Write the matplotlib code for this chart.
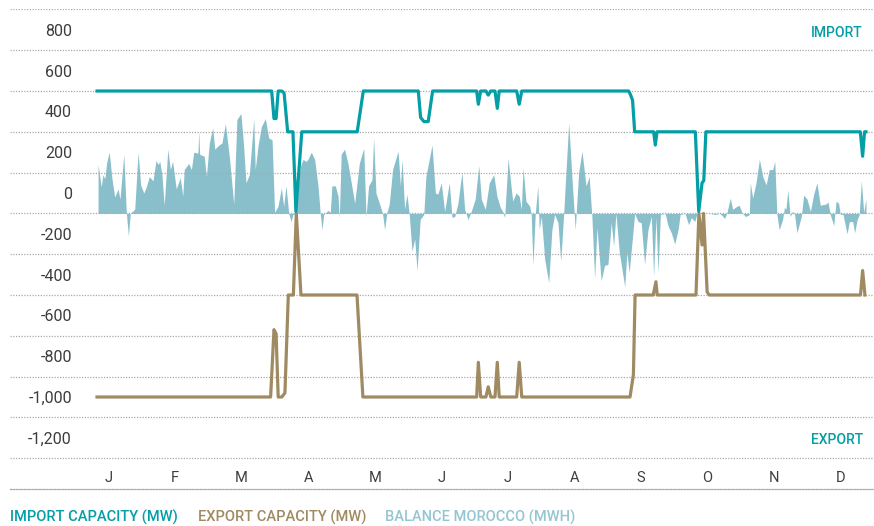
import matplotlib
matplotlib.use("Agg")
import matplotlib.pyplot as plt
from matplotlib import font_manager

# ---------------------------------------------------------------- data
# Interconnector capacities (MW); vertices of the daily series, day of year
import_day = [0, 82.9, 84.0, 85.0, 86.0, 87.7, 88.8, 90.5, 93.0, 94.4, 97.2,
              123.5, 126.4, 152.5, 153.6, 155.2, 157.2, 159.3, 180.2, 181.0,
              182.1, 184.6, 185.7, 186.9, 188.9, 190.0, 190.9, 199.2, 200.4,
              201.6, 252.3, 253.1, 254.2, 255.2, 264.2, 265.0, 265.8, 284.0,
              285.6, 287.2, 288.0, 289.0, 362.3, 363.4, 364.3, 365.0]
import_mw = [500, 500, 365, 365, 500, 500, 490, 300, 300, -90, 300,
             300, 500, 500, 370, 350, 350, 500, 500, 435,
             500, 500, 480, 500, 500, 415, 500, 500, 435,
             500, 500, 485, 455, 300, 300, 235, 300, 300,
             -90, 50, 60, 300, 300, 180, 300, 300]

export_day = [0, 82.4, 84.0, 85.0, 86.0, 87.7, 89.2, 90.8, 93.2, 94.6, 96.8,
              123.4, 126.2, 180.2, 181.0, 182.1, 184.6, 185.7, 186.9, 188.9,
              190.0, 190.9, 199.2, 200.4, 201.6, 253.0, 254.6, 255.4, 264.0,
              265.3, 265.9, 284.3, 285.7, 287.2, 287.9, 289.6, 290.6, 362.4,
              363.4, 364.5]
export_mw = [-1000, -1000, -670, -690, -1000, -1000, -980, -500, -500, -100, -500,
             -500, -1000, -1000, -830, -1000, -1000, -950, -1000, -1000,
             -830, -1000, -1000, -830, -1000, -1000, -890, -500, -500,
             -435, -500, -500, -100, -255, -100, -485, -500, -500,
             -380, -500]

# Daily balance of Morocco (MWh)
balance_day = [0.5, 2.0, 2.8, 3.7, 4.6, 5.8, 7.1, 8.4, 10.0, 10.9, 12.7, 13.9,
               14.9, 15.8, 17.9, 19.5, 20.7, 22.2, 23.4, 24.8, 26.6, 28.0, 29.0,
               29.8, 30.8, 31.9, 33.6, 34.8, 35.9, 37.6, 39.5, 40.7, 41.4, 43.5,
               44.8, 45.9, 47.9, 48.3, 48.7, 50.9, 51.9, 53.3, 54.9, 55.9, 57.8,
               59.3, 60.9, 62.8, 64.9, 66.4, 68.3, 69.6, 70.7, 72.3, 74.4, 75.1,
               76.4, 78.0, 79.9, 81.5, 83.1, 84.3, 85.9, 87.5, 88.6, 89.7, 91.0,
               92.1, 93.0, 94.4, 96.5, 97.8, 99.2, 100.1, 101.7, 103.3, 104.9,
               106.0, 106.8, 107.6, 108.7, 109.6, 110.7, 111.5, 113.1, 114.4,
               115.0, 115.9, 117.5, 119.1, 120.2, 122.3, 124.5, 126.6, 127.7,
               128.9, 130.5, 131.3, 132.4, 134.5, 135.6, 136.5, 137.6, 138.7,
               140.3, 142.9, 144.0, 144.8, 146.0, 147.1, 148.2, 149.5, 150.8,
               151.9, 153.4, 155.1, 156.1, 159.0, 160.6, 161.8, 163.4, 165.0,
               167.2, 168.5, 169.8, 171.3, 173.2, 174.5, 176.1, 177.6, 179.5,
               181.2, 182.4, 184.3, 186.2, 188.3, 189.8, 191.4, 192.5, 193.5,
               195.1, 197.3, 198.9, 200.4, 201.4, 202.2, 203.6, 205.4, 206.1,
               206.9, 208.0, 209.2, 209.9, 210.9, 212.5, 214.4, 215.9, 217.2,
               218.8, 220.1, 221.5, 222.3, 223.9, 225.4, 227.0, 228.6, 230.2,
               232.1, 233.6, 234.9, 236.2, 237.3, 239.3, 240.9, 242.5, 244.1,
               245.2, 246.3, 247.9, 250.5, 251.5, 252.6, 253.9, 255.2, 256.8,
               258.3, 259.9, 261.5, 263.1, 264.2, 265.3, 266.3, 267.4, 269.7,
               271.0, 272.6, 274.2, 275.8, 276.8, 279.1, 280.0, 280.8, 282.1,
               283.7, 284.8, 290.9, 293.3, 295.7, 297.9, 299.0, 300.6, 301.7,
               303.7, 304.8, 306.1, 307.7, 309.0, 309.6, 310.1, 311.2, 312.8,
               314.4, 316.0, 317.6, 319.1, 320.7, 321.7, 322.7, 323.8, 325.4,
               326.3, 327.0, 327.9, 329.0, 330.2, 331.1, 332.2, 334.3, 335.4,
               337.0, 338.6, 340.2, 341.7, 343.3, 345.7, 347.0, 348.0, 349.7,
               350.8, 352.0, 352.8, 354.1, 356.0, 357.1, 358.7, 359.6, 360.8,
               361.8, 362.8, 363.9, 365.0]
balance_mwh = [240, 130, 190, 170, 250, 300, 170, 80, 120, 70, 290, 5,
               -110, 0, 20, 300, 140, 100, 130, 180, 160, 260, 240,
               255, 190, 40, 315, 215, 255, 120, 175, 85, 215, 245,
               215, 300, 295, 405, 290, 280, 180, 345, 420, 315, 335,
               345, 440, 280, 45, 460, 490, 330, 150, 190, 465, 215,
               330, 425, 465, 370, 360, 5, 35, 125, 35, 135, 0,
               -40, -5, 0, 230, 265, 255, 265, 300, 265, 135,
               -5, -80, -5, 5, 15, 5, 135, 135, 85,
               -25, 290, 315, 245, 180, 50, 245, 320, -15,
               135, 165, 370, 100, 35, -5, -80, 5, 45,
               215, 305, 135, 265, 20, 95, -5, -185, -125,
               -280, -30, -5, 180, 335, 100, 95, 150, 10,
               150, -20, -15, 50, 200, 20, -30, 10, 70,
               235, 70, 20, 150, 190, 85, 30, 10, -20,
               270, 60, 100, 85, 20, 225, 60, 35, -5,
               -255, -5, 135, -80, -15, -225, -340, -80, -5,
               -45, -235, -5, 150, 445, 180, -80, 200, 305,
               135, 180, -15, -320, -70, -330, -255, -250, -45,
               -160, 0, -190, -360, -190, -290, -145, 0, -40,
               -45, -250, -80, -15, -305, -20, -290, -5, 0,
               -60, -95, -150, -80, -5, 0, -30, -55, -20,
               -40, 0, 0, -5, 0, -25, 5, 75, 20,
               35, 40, 5, -15, -10, -5, 150, 75, 150,
               265, 180, 140, 215, 215, 255, -5, -80, -30,
               30, 20, 115, -15, 10, -5, -95, -15, 90,
               70, 10, 95, 150, 40, 45, 55, -5, -60,
               60, 50, -5, -5, -100, -40, -40, -95, -30,
               -5, 160, 5, 70]

month_labels = ["J", "F", "M", "A", "M", "J", "J", "A", "S", "O", "N", "D"]
value_ticks = [800, 600, 400, 200, 0, -200, -400, -600, -800, -1000, -1200]
grid_levels = [900, 700, 500, 300, 100, -100, -300, -500, -700, -900, -1100, -1300]

legend_entries = ["IMPORT CAPACITY (MW)", "EXPORT CAPACITY (MW)", "BALANCE MOROCCO (MWH)"]

# ---------------------------------------------------------------- style
installed = {f.name for f in font_manager.fontManager.ttflist}
base_font = next((f for f in ["Roboto", "DejaVu Sans"] if f in installed), "DejaVu Sans")
plt.rcParams["font.family"] = [base_font, "DejaVu Sans"]

TEAL = "#049ea6"
BROWN = "#a08a62"
FILL = "#89bfcb"
FILL_TEXT = "#93c6d1"
GRID = "#a9a9a9"
LABEL = "#3d3d3d"

W, H = 874, 526
fig = plt.figure(figsize=(W / 100, H / 100), dpi=100)
ax = fig.add_axes([10 / W, 1 - 489 / H, 864 / W, 480 / H])
ax.set_xlim(-41.3, 368.8)
ax.set_ylim(-1451, 902)
ax.patch.set_visible(False)

# balance shares the vertical extent, its zero sitting on the -100 grid line
bx = ax.twinx()
bx.set_ylim(ax.get_ylim()[0] + 100, ax.get_ylim()[1] + 100)
bx.set_zorder(ax.get_zorder() - 1)
bx.fill_between(balance_day, 0, balance_mwh, color=FILL, lw=0, interpolate=True)
bx.axis("off")

for lvl in grid_levels:
    ax.axhline(lvl, color=GRID, lw=0.9, ls=(0, (1, 1.2)), zorder=1)

ax.plot(export_day, export_mw, color=BROWN, lw=2.3, solid_joinstyle="round", zorder=3)
ax.plot(import_day, import_mw, color=TEAL, lw=2.3, solid_joinstyle="round", zorder=4)

for side in ["top", "left", "right"]:
    ax.spines[side].set_visible(False)
ax.spines["bottom"].set_color(GRID)
ax.spines["bottom"].set_linewidth(0.9)
ax.spines["bottom"].set_linestyle((0, (1, 1.2)))

ax.set_yticks(value_ticks, [f"{v:,}" for v in value_ticks])
ax.tick_params(axis="y", length=0, pad=-44.6, labelsize=11.5, labelcolor=LABEL)

month_pos = [5.4 + 31.6 * i for i in range(len(month_labels))]
ax.set_xticks(month_pos, month_labels)
ax.tick_params(axis="x", length=0, pad=-13.2, labelsize=10.5, labelcolor=LABEL)

ax.text(0.987, 0.949, "IMPORT", transform=ax.transAxes, ha="right", va="center",
        color=TEAL, fontsize=10, fontweight="medium")
ax.text(0.987, 0.102, "EXPORT", transform=ax.transAxes, ha="right", va="center",
        color=TEAL, fontsize=10, fontweight="medium")

for (txt, col, xpx) in zip(legend_entries, [TEAL, BROWN, FILL_TEXT], [10, 198, 385]):
    fig.text(xpx / W, 1 - 517 / H, txt, color=col, fontsize=10.5,
             fontweight="medium", ha="left", va="center")

fig.savefig("out.png", dpi=100)
